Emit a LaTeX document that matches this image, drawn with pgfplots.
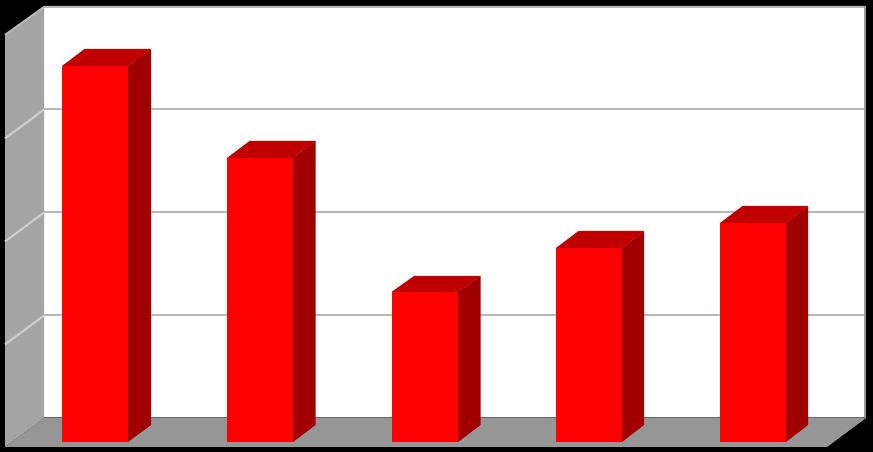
\documentclass[border=0pt]{standalone}
\usepackage{pgfplots}
\pgfplotsset{compat=1.18}
\definecolor{wallgrey}{HTML}{A4A4A4}
\definecolor{floorgrey}{HTML}{969696}
\definecolor{gridgrey}{HTML}{B8B8B8}
\definecolor{framegrey}{HTML}{989898}
\definecolor{sidegrid}{HTML}{CFCFCF}
\definecolor{frontred}{HTML}{FF0000}
\definecolor{topred}{HTML}{C00000}
\definecolor{sidered}{HTML}{A00000}
\pgfplotsset{
  face/.style={fill=#1,draw=none,forget plot},
  edge/.style={draw=#1,line width=2pt,forget plot},
}
\begin{document}
\begin{tikzpicture}
\begin{axis}[
  scale only axis,width=873pt,height=452pt,
  xmin=0,xmax=873,ymin=-10,ymax=442,
  hide axis,no marks,clip=true,
]
% background
\addplot[face=black] coordinates {(0,-10) (873,-10) (873,442) (0,442)} -- cycle;
% walls and floor
\addplot[face=white] coordinates {(44,24) (866,24) (866,435) (44,435)} -- cycle;
\addplot[face=wallgrey] coordinates {(5,-5) (44,24) (44,435) (5,407)} -- cycle;
\addplot[face=floorgrey] coordinates {(5,-5) (827,-5) (866,24) (44,24)} -- cycle;
% grid lines, back wall
\addplot[edge=gridgrey] coordinates {(44,126.5) (865,126.5)};
\addplot[edge=gridgrey] coordinates {(44,229.5) (865,229.5)};
\addplot[edge=gridgrey] coordinates {(44,332.5) (865,332.5)};
% grid lines, side wall
\addplot[edge=sidegrid] coordinates {(5,97.5) (44,126.5)};
\addplot[edge=sidegrid] coordinates {(5,200.5) (44,229.5)};
\addplot[edge=sidegrid] coordinates {(5,303.5) (44,332.5)};
% frame
\addplot[edge=gridgrey] coordinates {(5,407) (44,435) (865,435)};
\addplot[draw=framegrey,line width=2.5pt,forget plot] coordinates {(865,436) (865,24)};
\addplot[draw=black!60,line width=1pt,forget plot] coordinates {(44,24) (865,24)};
% bar 1
\addplot[face=sidered] coordinates {(128,0) (151,17) (151,393) (128,376)} -- cycle;
\addplot[face=topred] coordinates {(62,376) (84.5,393) (151,393) (128,376)} -- cycle;
\addplot[face=frontred] coordinates {(62,0) (128,0) (128,376) (62,376)} -- cycle;
% bar 2
\addplot[face=sidered] coordinates {(293,0) (315.5,17) (315.5,301) (293,284)} -- cycle;
\addplot[face=topred] coordinates {(227,284) (249.5,301) (315.5,301) (293,284)} -- cycle;
\addplot[face=frontred] coordinates {(227,0) (293,0) (293,284) (227,284)} -- cycle;
% bar 3
\addplot[face=sidered] coordinates {(458,0) (480.5,17) (480.5,166) (458,150)} -- cycle;
\addplot[face=topred] coordinates {(391.5,150) (414,166) (480.5,166) (458,150)} -- cycle;
\addplot[face=frontred] coordinates {(391.5,0) (458,0) (458,150) (391.5,150)} -- cycle;
% bar 4
\addplot[face=sidered] coordinates {(622,0) (644,17) (644,211) (622,194)} -- cycle;
\addplot[face=topred] coordinates {(556,194) (578.5,211) (644,211) (622,194)} -- cycle;
\addplot[face=frontred] coordinates {(556,0) (622,0) (622,194) (556,194)} -- cycle;
% bar 5
\addplot[face=sidered] coordinates {(786,0) (808,17) (808,236) (786,219)} -- cycle;
\addplot[face=topred] coordinates {(720,219) (742.5,236) (808,236) (786,219)} -- cycle;
\addplot[face=frontred] coordinates {(720,0) (786,0) (786,219) (720,219)} -- cycle;
\end{axis}
\end{tikzpicture}
\end{document}
